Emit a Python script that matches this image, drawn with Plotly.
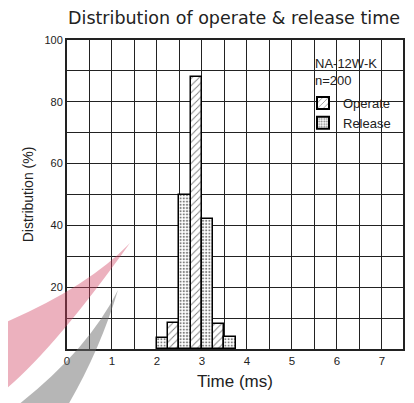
import plotly.graph_objects as go

# ---- data ----
operate_bin_start = [2.25, 2.75, 3.25]        # ms, bin width 0.25
operate_pct = [8.5, 88, 8]
release_bin_start = [2.0, 2.5, 3.0, 3.5]
release_pct = [3.5, 50, 42, 4]
bin_width = 0.25
x_ticks = [0, 1, 2, 3, 4, 5, 6, 7]
y_ticks = [20, 40, 60, 80, 100]

# page body has an 8px margin; figure is sized so that it fills the window
OFF = 8
W, H = 414 - OFF, 403 - OFF
PL, PR, PT, PB = 67, 403, 40, 349          # plot area in window pixels
L, R, T, B = PL - OFF, 414 - PR, PT - OFF, 403 - PB
PW, PH = PR - PL, PB - PT
FONT = "Liberation Sans, Arial, sans-serif"

fig = go.Figure()
fig.add_trace(go.Bar(
    x=operate_bin_start, y=operate_pct, width=bin_width, offset=0,
    name="Operate",
    marker=dict(color="white", line=dict(color="black", width=1.5),
                pattern=dict(shape="/", fgcolor="black", bgcolor="white",
                             size=5, solidity=0.18, fillmode="overlay")),
))
fig.add_trace(go.Bar(
    x=release_bin_start, y=release_pct, width=bin_width, offset=0,
    name="Release",
    marker=dict(color="white", line=dict(color="black", width=1.5),
                pattern=dict(shape=".", fgcolor="black", bgcolor="white",
                             size=3.2, solidity=0.35, fillmode="overlay")),
))

def px2paper(pts):
    return [((x - PL) / PW, (PB - y) / PH) for x, y in pts]

def path_from(cmds):
    out = []
    for c, pts in cmds:
        pp = px2paper(pts)
        out.append(c + " " + " ".join(f"{a:.4f},{b:.4f}" for a, b in pp))
    return " ".join(out) + " Z"

def cx(px):
    return (px - OFF) / W

def cy(py):
    return 1 - (py - OFF) / H

shapes = [
    # blank area behind legend
    dict(type="rect", xref="x", yref="y", x0=4.78, x1=7.47, y0=86, y1=98.6,
         fillcolor="white", line=dict(width=0), layer="below"),
    dict(type="rect", xref="x", yref="y", x0=5.3, x1=7.47, y0=71, y1=86.5,
         fillcolor="white", line=dict(width=0), layer="below"),
    # watermark swooshes
    dict(type="path", xref="paper", yref="paper",
         path=path_from([("M", [(-8, 328)]), ("Q", [(85, 290), (130, 243)]),
                         ("Q", [(45, 362), (-8, 400)])]),
         fillcolor="rgb(210,70,100)", opacity=0.42, line=dict(width=0), layer="above"),
    dict(type="path", xref="paper", yref="paper",
         path=path_from([("M", [(18, 405)]), ("Q", [(88, 350), (118, 290)]),
                         ("Q", [(100, 350), (68, 405)])]),
         fillcolor="rgb(110,110,110)", opacity=0.5, line=dict(width=0), layer="above"),
]

annotations = [
    dict(text="NA-12W-K", xref="paper", yref="paper", x=(313 - PL) / PW, y=(PB - 63) / PH,
         xanchor="left", yanchor="middle", showarrow=False, font=dict(size=13, color="#222")),
    dict(text="n=200", xref="paper", yref="paper", x=(313 - PL) / PW, y=(PB - 80) / PH,
         xanchor="left", yanchor="middle", showarrow=False, font=dict(size=13, color="#222")),
]

fig.update_layout(
    width=W, height=H,
    margin=dict(l=L, r=R, t=T, b=B, autoexpand=False),
    paper_bgcolor="white", plot_bgcolor="white",
    barmode="overlay", bargap=0,
    font=dict(family=FONT, color="#222", size=11),
    title=dict(text="Distribution of operate & release time",
               xref="container", x=cx(234), xanchor="center", y=cy(18), yanchor="middle",
               font=dict(size=17.5, color="#222", family="DejaVu Sans, sans-serif")),
    showlegend=True,
    legend=dict(x=(303 - PL) / PW, xanchor="left", y=(PB - 88) / PH, yanchor="top",
                bgcolor="rgba(0,0,0,0)", font=dict(size=13, color="#222"),
                itemsizing="constant", tracegroupgap=0),
    shapes=shapes,
    annotations=annotations,
)
fig.update_xaxes(
    range=[0, 7.47], tickvals=x_ticks, ticktext=[str(v) for v in x_ticks],
    showgrid=True, gridcolor="#222", gridwidth=1.1,
    minor=dict(dtick=0.5, showgrid=True, gridcolor="#222", gridwidth=1.1, tick0=0),
    showline=True, linecolor="#222", linewidth=2, mirror=True,
    ticks="", zeroline=False,
    title=dict(text="Time (ms)", font=dict(size=17, color="#222"), standoff=9),
    tickfont=dict(size=11.5),
)
fig.update_yaxes(
    range=[0, 100], tickvals=y_ticks, ticktext=[str(v) for v in y_ticks],
    showgrid=True, gridcolor="#222", gridwidth=1.1,
    minor=dict(dtick=10, showgrid=True, gridcolor="#222", gridwidth=1.1, tick0=0),
    showline=True, linecolor="#222", linewidth=2, mirror=True,
    ticks="", zeroline=False,
    title=dict(text="Distribution (%)", font=dict(size=14, color="#222"), standoff=8),
    tickfont=dict(size=11),
)

fig.write_html("out.html")
